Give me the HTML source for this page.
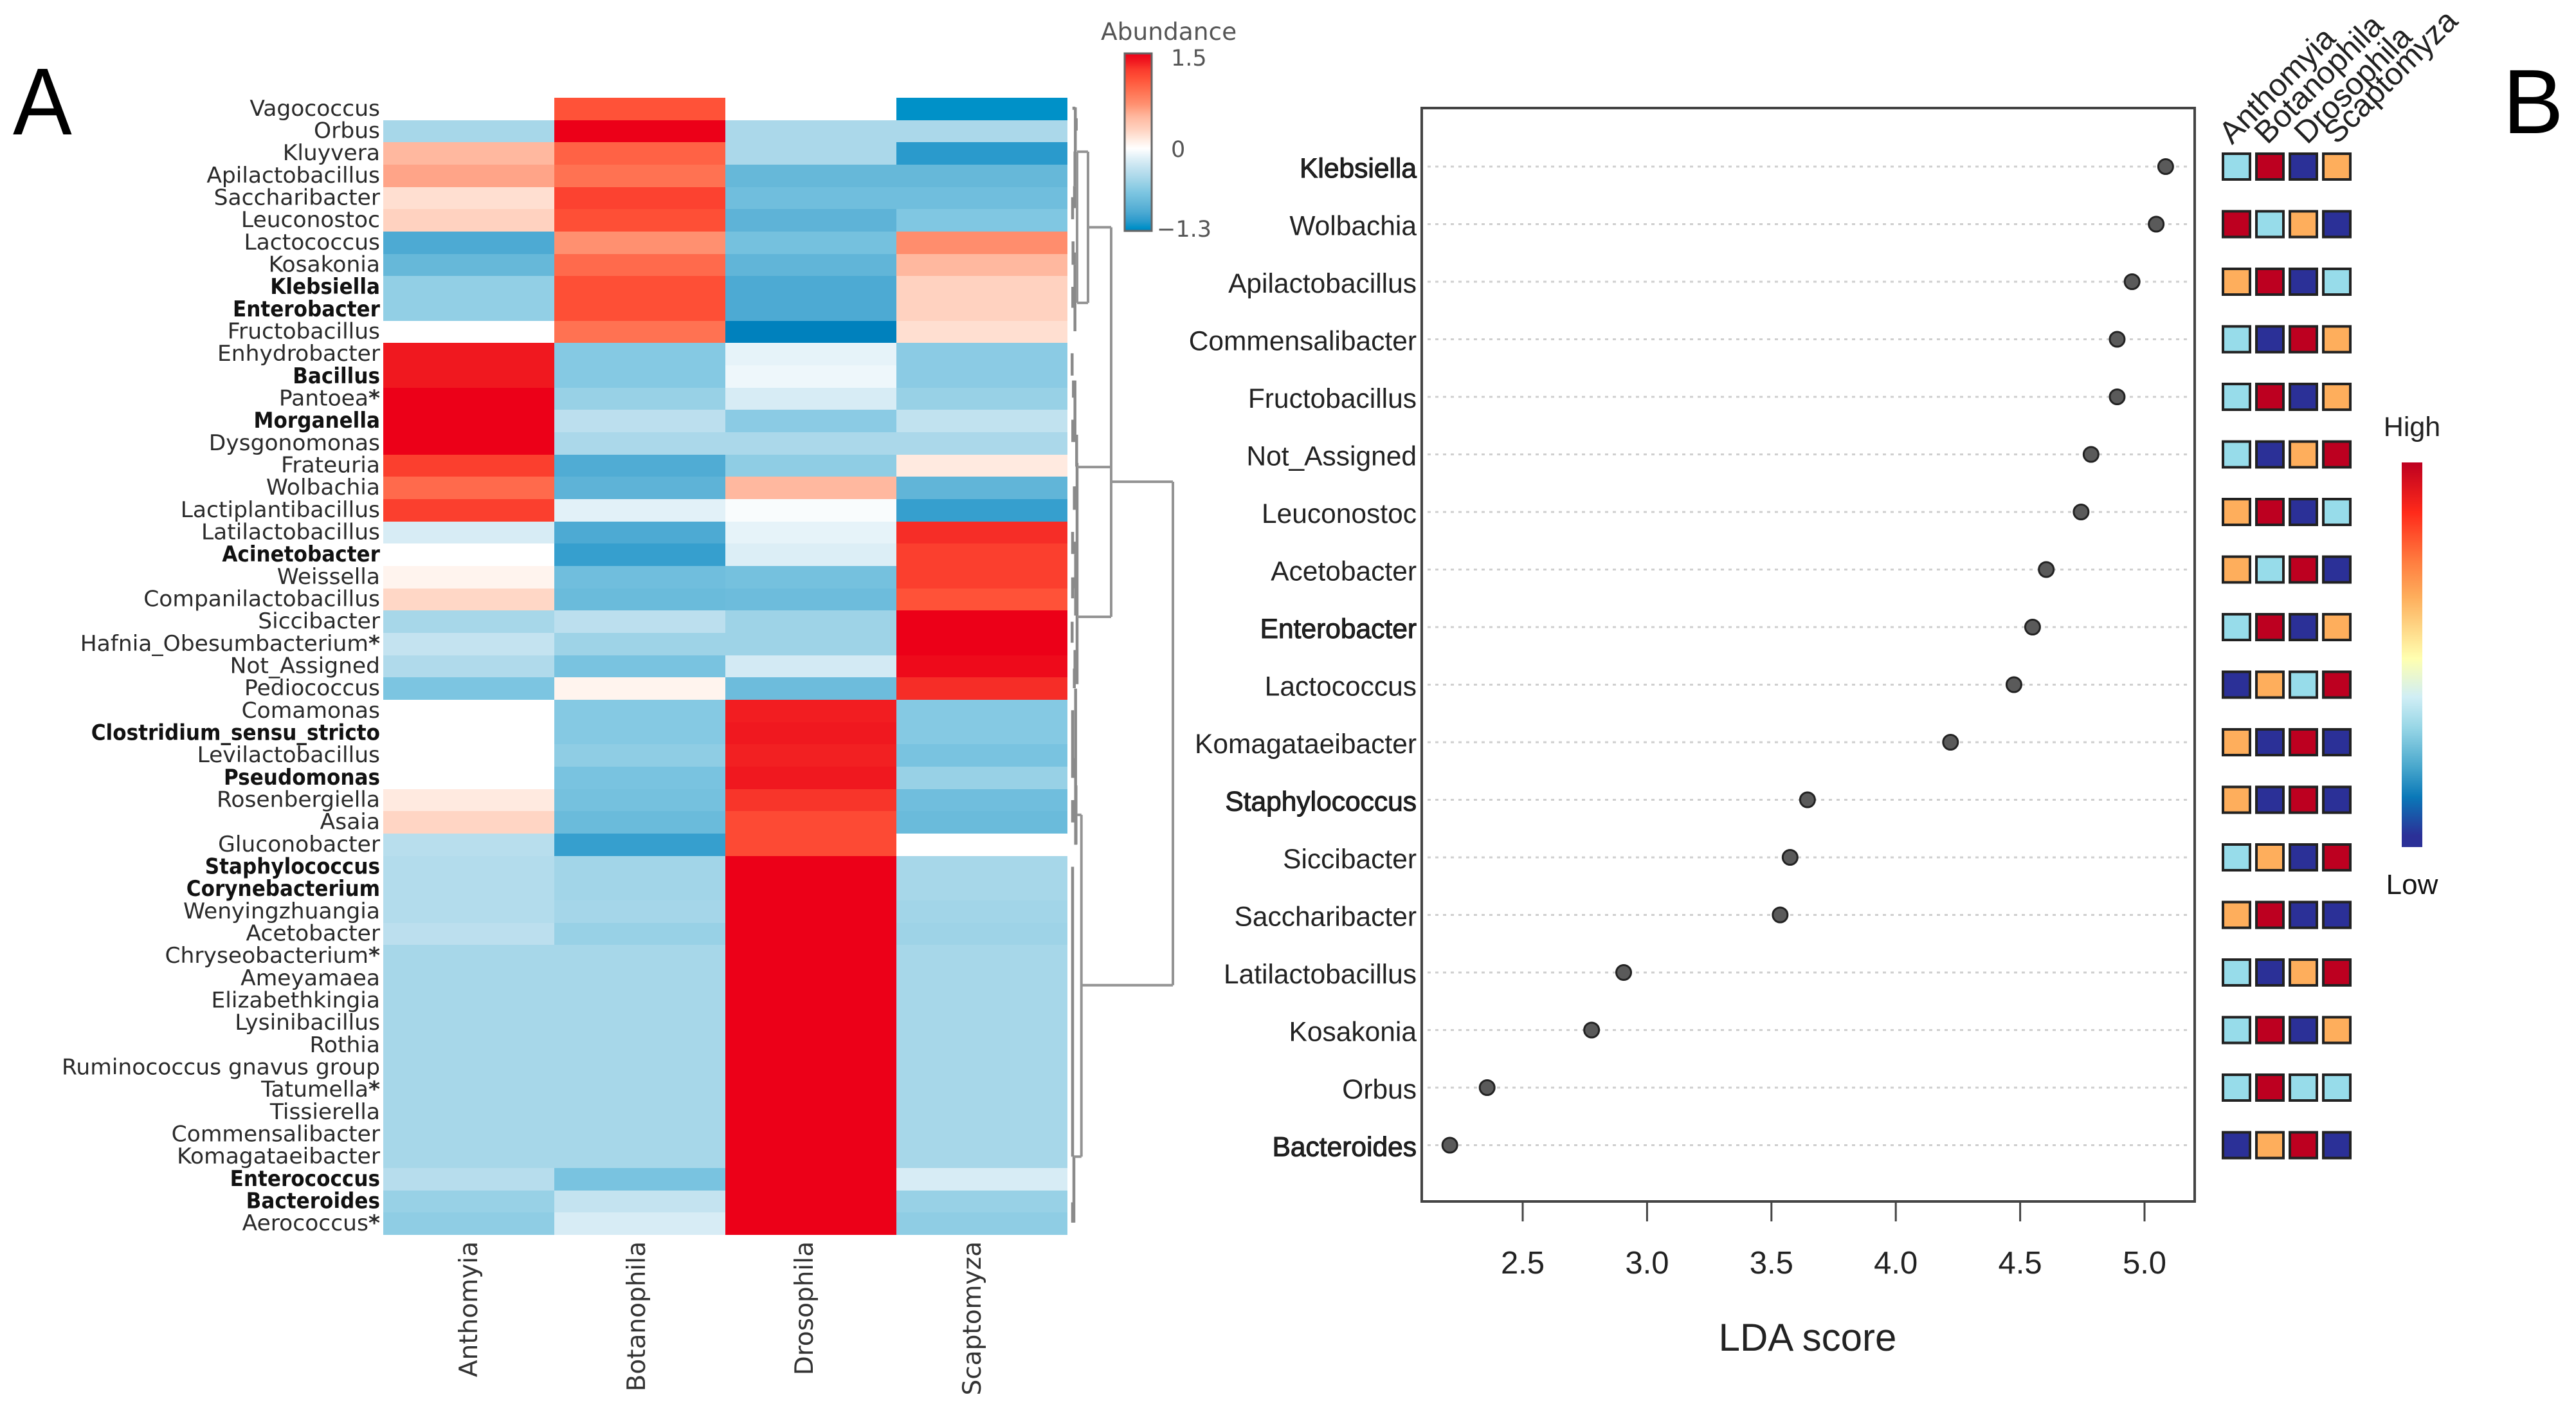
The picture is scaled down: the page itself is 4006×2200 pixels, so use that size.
<!DOCTYPE html>
<html lang="en">
<head>
<meta charset="utf-8">
<title>Heatmap and LDA score plot</title>
<style>
html,body{margin:0;padding:0;background:#fff;}
svg{display:block;}
.dj{font-family:"DejaVu Sans",sans-serif;}
.lib{font-family:"Liberation Sans",sans-serif;}
</style>
</head>
<body>
<svg id="figure" xmlns="http://www.w3.org/2000/svg" width="4006" height="2200" viewBox="0 0 4006 2200">
  <defs>
    <linearGradient id="abundanceGradient" x1="0" y1="0" x2="0" y2="1"></linearGradient>
    <linearGradient id="ldaGradient" x1="0" y1="0" x2="0" y2="1">
      <stop offset="0" stop-color="#bd0020"/>
      <stop offset="0.13" stop-color="#ff2a1a"/>
      <stop offset="0.26" stop-color="#ff7e40"/>
      <stop offset="0.35" stop-color="#feae5c"/>
      <stop offset="0.51" stop-color="#ffffb0"/>
      <stop offset="0.61" stop-color="#d0eef5"/>
      <stop offset="0.69" stop-color="#97d6e6"/>
      <stop offset="0.79" stop-color="#4aa8cd"/>
      <stop offset="0.87" stop-color="#0a78b8"/>
      <stop offset="0.97" stop-color="#2b3097"/>
      <stop offset="1" stop-color="#2b3097"/>
    </linearGradient>
  </defs>

  <text class="lib" transform="translate(20,209) scale(0.93,1)" font-size="148" fill="#000">A</text>
  <text class="lib" x="3892" y="207" font-size="142" fill="#000">B</text>

  <g id="heatmap"></g>
  <g id="heatLabels"></g>
  <g id="heatColumns"></g>
  <g id="dendrogram"></g>

  <g>
    <text class="dj" x="1712" y="62" font-size="37.5" fill="#555">Abundance</text>
    <rect x="1749" y="83" width="42" height="276" fill="url(#abundanceGradient)" stroke="#666" stroke-width="3"/>
    <text class="dj" x="1821" y="102" font-size="35" fill="#555">1.5</text>
    <text class="dj" x="1821" y="244" font-size="35" fill="#555">0</text>
    <text class="dj" x="1799" y="368" font-size="35" fill="#555">−1.3</text>
  </g>

  <g id="ldaGrid"></g>
  <rect x="2211" y="168" width="1202" height="1700" fill="none" stroke="#444" stroke-width="4"/>
  <g id="ldaAxis"></g>
  <text class="lib" x="2811" y="2100" font-size="60" fill="#222" text-anchor="middle">LDA score</text>
  <g id="ldaLabels"></g>
  <g id="ldaPoints"></g>
  <g id="rankSquares"></g>
  <g id="rankHeaders"></g>

  <g>
    <text class="lib" x="3751" y="678" font-size="43" fill="#222" text-anchor="middle">High</text>
    <rect x="3735" y="719" width="32" height="598" fill="url(#ldaGradient)"/>
    <text class="lib" x="3751" y="1390" font-size="44" fill="#111" text-anchor="middle">Low</text>
  </g>
</svg>

<script>
// ---------- heatmap data ----------
const hosts = ["Anthomyia", "Botanophila", "Drosophila", "Scaptomyza"];
const genera = ["Vagococcus","Orbus","Kluyvera","Apilactobacillus","Saccharibacter","Leuconostoc","Lactococcus","Kosakonia","Klebsiella","Enterobacter","Fructobacillus","Enhydrobacter","Bacillus","Pantoea*","Morganella","Dysgonomonas","Frateuria","Wolbachia","Lactiplantibacillus","Latilactobacillus","Acinetobacter","Weissella","Companilactobacillus","Siccibacter","Hafnia_Obesumbacterium*","Not_Assigned","Pediococcus","Comamonas","Clostridium_sensu_stricto","Levilactobacillus","Pseudomonas","Rosenbergiella","Asaia","Gluconobacter","Staphylococcus","Corynebacterium","Wenyingzhuangia","Acetobacter","Chryseobacterium*","Ameyamaea","Elizabethkingia","Lysinibacillus","Rothia","Ruminococcus gnavus group","Tatumella*","Tissierella","Commensalibacter","Komagataeibacter","Enterococcus","Bacteroides","Aerococcus*"];
const boldGenera = ["Klebsiella","Enterobacter","Bacillus","Morganella","Acinetobacter","Clostridium_sensu_stricto","Pseudomonas","Staphylococcus","Corynebacterium","Enterococcus","Bacteroides"];
const abundanceAnthomyia = [0,-0.47,0.5,0.6,0.22,0.3,-1,-0.85,-0.58,-0.58,0,1.38,1.38,1.5,1.5,1.5,1.22,0.95,1.22,-0.2,0,0.08,0.27,-0.47,-0.3,-0.42,-0.7,0,0,0,0,0.15,0.28,-0.37,-0.4,-0.4,-0.4,-0.35,-0.47,-0.47,-0.47,-0.47,-0.47,-0.47,-0.47,-0.47,-0.47,-0.47,-0.38,-0.55,-0.6];
const abundanceBotanophila = [1.1,1.5,1,0.9,1.2,1.12,0.7,0.95,1.12,1.12,0.9,-0.65,-0.65,-0.55,-0.35,-0.45,-0.98,-0.9,-0.14,-1,-1.1,-0.78,-0.82,-0.35,-0.52,-0.72,0.08,-0.65,-0.65,-0.6,-0.72,-0.75,-0.82,-1.1,-0.5,-0.5,-0.48,-0.55,-0.47,-0.47,-0.47,-0.47,-0.47,-0.47,-0.47,-0.47,-0.47,-0.47,-0.72,-0.3,-0.2];
const abundanceDrosophila = [0,-0.45,-0.45,-0.85,-0.78,-0.9,-0.75,-0.88,-1,-1,-1.3,-0.12,-0.08,-0.2,-0.62,-0.45,-0.6,0.5,-0.03,-0.12,-0.17,-0.75,-0.8,-0.52,-0.52,-0.22,-0.8,1.36,1.38,1.35,1.38,1.27,1.15,1.15,1.5,1.5,1.5,1.5,1.5,1.5,1.5,1.5,1.5,1.5,1.5,1.5,1.5,1.5,1.5,1.5,1.5];
const abundanceScaptomyza = [-1.25,-0.45,-1.15,-0.85,-0.78,-0.68,0.72,0.5,0.3,0.3,0.22,-0.62,-0.62,-0.55,-0.32,-0.45,0.15,-0.88,-1.1,1.3,1.22,1.22,1.1,1.5,1.5,1.45,1.3,-0.65,-0.65,-0.72,-0.55,-0.78,-0.82,0,-0.47,-0.47,-0.5,-0.52,-0.47,-0.47,-0.47,-0.47,-0.47,-0.47,-0.47,-0.47,-0.47,-0.47,-0.2,-0.55,-0.6];
const abundanceSeries = [abundanceAnthomyia, abundanceBotanophila, abundanceDrosophila, abundanceScaptomyza];
const rampValues = [-1.3,-1.25,-1.15,-1,-0.85,-0.7,-0.55,-0.45,-0.3,-0.15,0,0.15,0.3,0.5,0.7,0.9,1.1,1.25,1.38,1.5];
const rampColors = ["#0081bd","#0091c8","#2a9acc","#4daad3","#66b8d9","#7cc5e1","#98d1e6","#abd8ea","#c4e3f0","#e0f0f7","#ffffff","#ffeae0","#ffd2c0","#ffb89f","#ff9070","#ff7252","#ff5238","#fa3a2c","#f0181f","#ec0018"];

// ---------- dendrogram data: row-span (in rows) and merge height ----------
const leafSpans = [[10,0.4,0.54],[12.3,0.43,2.41],[13.7,0.92,1.47],[11.7,2.41,3.96],[13.3,2.97,3.96],[8,4.46,5.45],[11,3.96,4.95],[8.7,6.44,7.49],[10.7,6.94,7.49],[11.7,7.49,10.47],[8.3,8.48,9.42],[10.7,8.48,9.42],[7.3,11.46,12.46],[9.3,12.68,13.45],[11.7,12.68,15.44],[8.3,14.44,15.44],[14.3,15.11,16.54],[15,16.38,26.3],[10.7,17.43,18.48],[13.3,17.43,17.93],[8,19.47,20.46],[10.7,19.91,20.46],[12.7,20.46,23.22],[14.3,21,22],[8,21.51,22.45],[11.3,21.51,22],[7.3,23.5,24.44],[11.7,24.77,25.6],[13.3,24.77,25.6],[10.7,25.6,26.48],[8,27.47,30.5],[10.7,29.62,30.5],[13.3,30.84,33.49],[8,31.5,32.5],[11.7,31.5,32.5],[12.7,26.5,33.5],[8,34.49,47.49],[10,47.49,50.45],[8,49.54,50.45]];
const branchSpans = [[32,2.42,9.2],[68,5.81,23.28],[164,17.22,39.8],[21.7,32.16,47.49],[15,2.42,9.2]];
const branchLinks = [[2.42,15,32],[9.2,15,32],[5.81,32,68],[16.56,15,68],[23.28,15,68],[17.22,68,164],[39.8,21.7,164],[32.16,15,21.7],[47.49,10,21.7]];

// ---------- LDA data ----------
const ldaTaxa = ["Klebsiella","Wolbachia","Apilactobacillus","Commensalibacter","Fructobacillus","Not_Assigned","Leuconostoc","Acetobacter","Enterobacter","Lactococcus","Komagataeibacter","Staphylococcus","Siccibacter","Saccharibacter","Latilactobacillus","Kosakonia","Orbus","Bacteroides"];
const ldaScores = [5.085,5.047,4.95,4.89,4.89,4.785,4.745,4.605,4.55,4.475,4.22,3.645,3.575,3.535,2.906,2.777,2.357,2.207];
const ldaEmphasis = ["Klebsiella","Enterobacter","Staphylococcus","Bacteroides"];
const ldaTicks = [2.5,3.0,3.5,4.0,4.5,5.0];
const rankAnthomyia = [2,4,3,2,2,2,3,3,2,1,3,3,2,3,2,2,2,1];
const rankBotanophila = [4,2,4,1,4,1,4,2,4,3,1,1,3,4,1,4,4,3];
const rankDrosophila = [1,3,1,4,1,3,1,4,1,2,4,4,1,1,3,1,2,4];
const rankScaptomyza = [3,1,2,3,3,4,2,1,3,4,1,1,4,1,4,3,2,1];
const rankSeries = [rankAnthomyia, rankBotanophila, rankDrosophila, rankScaptomyza];
const rankLevels = [1,2,3,4];
const rankColors = ["#2b3097","#97dcea","#feae5c","#bd0020"];

// ---------- helpers ----------
const NS = "http://www.w3.org/2000/svg";
function make(tag, attrs, parentId, content) {
  const el = document.createElementNS(NS, tag);
  for (const k in attrs) el.setAttribute(k, attrs[k]);
  if (content !== undefined) el.textContent = content;
  document.getElementById(parentId).appendChild(el);
  return el;
}
function hexToRgb(h) { return [1,3,5].map(i => parseInt(h.slice(i,i+2),16)); }
function heatColor(v) {
  if (v <= rampValues[0]) return rampColors[0];
  for (let i = 1; i < rampValues.length; i++) {
    if (v <= rampValues[i]) {
      const t = (v - rampValues[i-1]) / (rampValues[i] - rampValues[i-1]);
      const a = hexToRgb(rampColors[i-1]), b = hexToRgb(rampColors[i]);
      return "rgb(" + a.map((c,j) => Math.round(c + (b[j]-c)*t)).join(",") + ")";
    }
  }
  return rampColors[rampColors.length-1];
}

// ---------- scales ----------
const heatTop = 152, heatBottom = 1920, heatLeft = 596, heatRight = 1660;
const rowH = (heatBottom - heatTop) / genera.length;
const colW = (heatRight - heatLeft) / hosts.length;
const rowY = r => heatTop + r * rowH;
const colX = c => heatLeft + c * colW;
const dendroX = h => heatRight + h;
const ldaX = v => 2368 + (v - 2.5) * 386.8;
const ldaY = i => 259 + i * 89.5;

// ---------- heatmap ----------
abundanceSeries.forEach((series, c) => {
  series.forEach((v, r) => {
    const x0 = Math.round(colX(c)), x1 = Math.round(colX(c+1));
    const y0 = Math.round(rowY(r)), y1 = Math.round(rowY(r+1));
    const cell = make("rect", {x:x0, y:y0, width:x1-x0, height:y1-y0, fill:heatColor(v)}, "heatmap");
    
    
  });
});
genera.forEach((g, r) => {
  const bold = boldGenera.includes(g);
  const by = rowY(r + 0.5) + 10.5;
  const hasStar = g.endsWith("*");
  const t = make("text", {class:"dj", transform:"translate(591," + by.toFixed(1) + ") scale(" + (bold ? 0.915 : 1.014) + ",1)", "font-size":34, "text-anchor":"end", fill:bold ? "#111" : "#2a2a2a", "font-weight":bold ? "bold" : "normal"}, "heatLabels", hasStar ? g.slice(0, -1) : g);
  
  
  if (hasStar) {
    const star = document.createElementNS(NS, "tspan");
    star.setAttribute("font-weight", "bold");
    star.textContent = "*";
    t.appendChild(star);
  }
});
hosts.forEach((h, c) => {
  const x = 728 + c * 261 + 14;
  const t = make("text", {class:"dj", transform:"translate(" + x + ",1930) rotate(-90)", "font-size":39, "text-anchor":"end", fill:"#333"}, "heatColumns", h);
  
  
});

// ---------- dendrogram ----------
leafSpans.forEach(s => {
  const l = make("line", {x1:dendroX(s[0]), x2:dendroX(s[0]), y1:rowY(s[1]), y2:rowY(s[2]), stroke:"#8a8a8a", "stroke-width":4.5}, "dendrogram");
  
  
});
branchSpans.forEach(s => {
  const l = make("line", {x1:dendroX(s[0]), x2:dendroX(s[0]), y1:rowY(s[1]), y2:rowY(s[2]), stroke:"#949494", "stroke-width":4}, "dendrogram");
  
  
});
branchLinks.forEach(s => {
  const l = make("line", {x1:dendroX(s[1]), x2:dendroX(s[2]), y1:rowY(s[0]), y2:rowY(s[0]), stroke:"#949494", "stroke-width":4}, "dendrogram");
  
  
});

// ---------- abundance colourbar gradient ----------
rampValues.forEach((v, i) => {
  const offset = (1.5 - v) / 2.8;
  const st = document.createElementNS(NS, "stop");
  st.setAttribute("offset", offset.toFixed(4));
  st.setAttribute("stop-color", rampColors[i]);
  const grad = document.getElementById("abundanceGradient");
  grad.insertBefore(st, grad.firstChild);
});

// ---------- LDA plot ----------
ldaTaxa.forEach((name, i) => {
  const y = ldaY(i);
  const g = make("line", {x1:2220, x2:3404, y1:y, y2:y, stroke:"#cfcfcf", "stroke-width":3, "stroke-dasharray":"5 7"}, "ldaGrid");
  
  

  const strong = ldaEmphasis.includes(name);
  const t = make("text", {class:"lib", x:2203, y:y + 17, "font-size":42.5, "text-anchor":"end", fill:"#222", stroke:strong ? "#111" : "none", "stroke-width":strong ? 1 : 0}, "ldaLabels", name);
  
  

  const p = make("circle", {cx:ldaX(ldaScores[i]), cy:y, r:11.5, fill:"#5a5a5a", stroke:"#222", "stroke-width":3}, "ldaPoints");
  
  

  rankSeries.forEach((series, c) => {
    const color = rankColors[rankLevels.indexOf(series[i])];
    const sq = make("rect", {x:3457 + c * 52, y:y - 20, width:42, height:40, fill:color, stroke:"#222", "stroke-width":4}, "rankSquares");
    
    
  });
});
ldaTicks.forEach(v => {
  const x = ldaX(v);
  const tick = make("line", {x1:x, x2:x, y1:1868, y2:1899, stroke:"#444", "stroke-width":3}, "ldaAxis");
  
  
  const lab = make("text", {class:"lib", x:x, y:1980, "font-size":49, "text-anchor":"middle", fill:"#222"}, "ldaAxis", v.toFixed(1));
  
  
});
const headerStartX = [3471, 3526, 3588, 3634];
hosts.forEach((h, c) => {
  const t = make("text", {class:"lib", transform:"translate(" + headerStartX[c] + ",226) rotate(-45)", "font-size":49, fill:"#222"}, "rankHeaders", h);
  
  
});
</script>
</body>
</html>
